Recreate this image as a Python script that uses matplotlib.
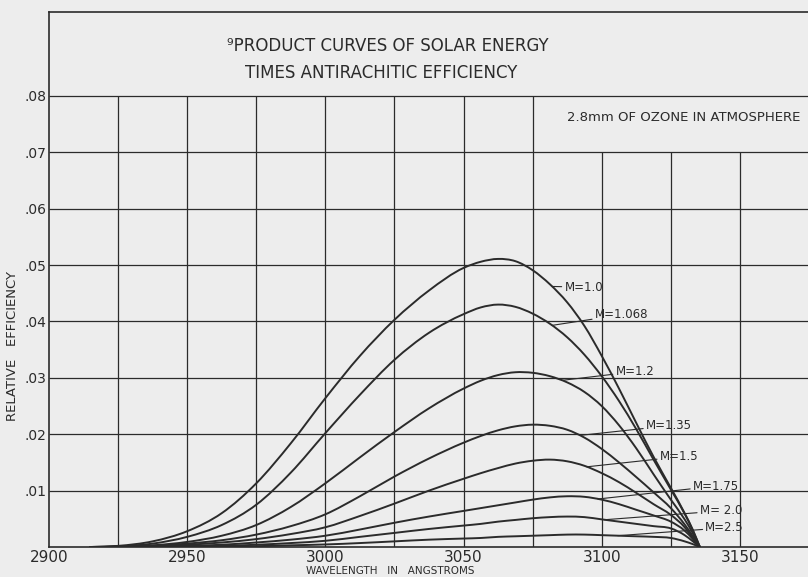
import numpy as np
import matplotlib.pyplot as plt
from matplotlib.path import Path
from matplotlib.patches import PathPatch

# wavelength readings (angstroms)
wl = [2915, 2925, 2937.5, 2950, 2962.5, 2975, 2987.5, 3000, 3012.5, 3025, 3037.5,
      3050, 3056.25, 3062.5, 3068.75, 3075, 3081.25, 3087.5, 3093.75, 3100,
      3106.25, 3112.5, 3118.75, 3125, 3130, 3133, 3135.5]

m_100 = [0, 0.0002, 0.0010, 0.0028, 0.0060, 0.0113, 0.0184, 0.0264, 0.0339, 0.0403, 0.0455,
         0.0495, 0.0506, 0.0511, 0.0507, 0.0491, 0.0466, 0.0434, 0.0392, 0.0339,
         0.0281, 0.0220, 0.0160, 0.0105, 0.0060, 0.0030, 0]
m_1068 = [0, 0.0001, 0.0006, 0.0018, 0.0039, 0.0075, 0.0132, 0.0202, 0.0270, 0.0332, 0.0380,
          0.0413, 0.0425, 0.0430, 0.0426, 0.0414, 0.0396, 0.0372, 0.0341, 0.0303,
          0.0259, 0.0209, 0.0155, 0.0102, 0.0059, 0.0029, 0]
m_120 = [0, 0.0001, 0.0003, 0.0009, 0.0020, 0.0039, 0.0071, 0.0113, 0.0159, 0.0204, 0.0246,
         0.0281, 0.0295, 0.0305, 0.0310, 0.0309, 0.0303, 0.0292, 0.0275, 0.0250,
         0.0216, 0.0175, 0.0129, 0.0084, 0.0049, 0.0024, 0]
m_135 = [0, 0, 0.0002, 0.0006, 0.0012, 0.0022, 0.0037, 0.0058, 0.0090, 0.0125, 0.0157,
         0.0185, 0.0197, 0.0207, 0.0214, 0.0217, 0.0215, 0.0208, 0.0194, 0.0174,
         0.0150, 0.0124, 0.0097, 0.0069, 0.0040, 0.0019, 0]
m_150 = [0, 0, 0.0001, 0.0004, 0.0008, 0.0014, 0.0023, 0.0035, 0.0055, 0.0077, 0.0100,
         0.0121, 0.0131, 0.0140, 0.0148, 0.0153, 0.0155, 0.0152, 0.0144, 0.0131,
         0.0115, 0.0096, 0.0076, 0.0057, 0.0035, 0.0016, 0]
m_175 = [0, 0, 0.0001, 0.0002, 0.0004, 0.0008, 0.0013, 0.0020, 0.0031, 0.0043, 0.0054,
         0.0064, 0.0069, 0.0074, 0.0079, 0.0084, 0.0088, 0.0090, 0.0089, 0.0084,
         0.0076, 0.0066, 0.0056, 0.0045, 0.0029, 0.0014, 0]
m_200 = [0, 0, 0, 0.0001, 0.0002, 0.0004, 0.0007, 0.0011, 0.0018, 0.0025, 0.0032,
         0.0038, 0.0041, 0.0045, 0.0048, 0.0051, 0.0053, 0.0054, 0.0053, 0.0049,
         0.0045, 0.0041, 0.0037, 0.0033, 0.0021, 0.0010, 0]
m_250 = [0, 0, 0, 0, 0.0001, 0.00015, 0.0003, 0.00045, 0.0007, 0.0010, 0.0013,
         0.0015, 0.0016, 0.0018, 0.0019, 0.0020, 0.0021, 0.0022, 0.0022, 0.0021,
         0.0020, 0.0019, 0.0018, 0.0016, 0.0010, 0.0005, 0]

curves = [m_100, m_1068, m_120, m_135, m_150, m_175, m_200, m_250]
labels = ['M=1.0', 'M=1.068', 'M=1.2', 'M=1.35', 'M=1.5', 'M=1.75', 'M= 2.0', 'M=2.5']

# where each leader leaves its curve, and where its label sits
leader_wl = [3082, 3082, 3085.5, 3092, 3094.6, 3098.6, 3101, 3105.8]
label_x = [3086.5, 3097.5, 3105, 3116, 3121, 3133, 3135.5, 3137.5]
label_y = [0.0461, 0.0412, 0.0311, 0.0215, 0.0160, 0.0108, 0.0064, 0.0034]

xticks = [2900, 2950, 3000, 3050, 3100, 3150]
yticks = [0.01, 0.02, 0.03, 0.04, 0.05, 0.06, 0.07, 0.08]
ytick_labels = ['.01', '.02', '.03', '.04', '.05', '.06', '.07', '.08']

ink = '#2b2b2b'
paper = '#ededed'


def smooth_path(x, y):
    # cubic hermite through the readings, drawn as bezier segments
    x = np.asarray(x, float)
    y = np.asarray(y, float)
    h = np.diff(x)
    d = np.diff(y) / h
    m = np.zeros_like(y)
    m[0], m[-1] = d[0], d[-1]
    m[1:-1] = (d[:-1] * h[1:] + d[1:] * h[:-1]) / (h[:-1] + h[1:])
    verts = [(x[0], y[0])]
    codes = [Path.MOVETO]
    for i in range(len(h)):
        verts += [(x[i] + h[i] / 3, y[i] + m[i] * h[i] / 3),
                  (x[i + 1] - h[i] / 3, y[i + 1] - m[i + 1] * h[i] / 3),
                  (x[i + 1], y[i + 1])]
        codes += [Path.CURVE4] * 3
    return Path(verts, codes)


fig = plt.figure(figsize=(8.08, 5.77), dpi=100, facecolor=paper)
ax = fig.add_axes([49 / 808, 30 / 577, 760 / 808, 535 / 577], facecolor=paper)
ax.set_xlim(2900, 3175)
ax.set_ylim(0, 0.0949)

# grid: the ozone note sits in the top right cells, so those columns stop at .07
for x in range(2925, 3175, 25):
    top = 0.07 if x >= 3100 else 0.08
    ax.vlines(x, 0, top, color=ink, lw=0.9)
ax.hlines(yticks, 2900, 3175, color=ink, lw=0.9)

for vals in curves:
    ax.add_patch(PathPatch(smooth_path(wl, vals), fill=False, edgecolor=ink,
                           lw=1.4, capstyle='round', joinstyle='round'))

for vals, lab, lw_, lx, ly in zip(curves, labels, leader_wl, label_x, label_y):
    yv = np.interp(lw_, wl, vals)
    ax.annotate(lab, xy=(lw_, yv), xytext=(lx, ly), textcoords='data',
                fontsize=8.5, color=ink, ha='left', va='center',
                arrowprops=dict(arrowstyle='-', color=ink, lw=0.8,
                                shrinkA=0, shrinkB=0))

for side in ['left', 'top', 'bottom']:
    ax.spines[side].set_color(ink)
    ax.spines[side].set_linewidth(1.2)
ax.spines['right'].set_visible(False)

ax.set_xticks(xticks)
ax.set_xticklabels([str(t) for t in xticks], fontsize=11, color=ink)
ax.set_yticks(yticks)
ax.set_yticklabels(ytick_labels, fontsize=10, color=ink)
ax.tick_params(length=0, pad=2)

fig.text(388 / 808, 1 - 46 / 577, '\u2079PRODUCT CURVES OF SOLAR ENERGY',
         fontsize=12, color=ink, ha='center', va='center')
fig.text(381 / 808, 1 - 73 / 577, 'TIMES ANTIRACHITIC EFFICIENCY',
         fontsize=12, color=ink, ha='center', va='center')
fig.text(684 / 808, 1 - 117 / 577, '2.8mm OF OZONE IN ATMOSPHERE',
         fontsize=9.5, color=ink, ha='center', va='center')
fig.text(390 / 808, 1 - 571.5 / 577, 'WAVELENGTH   IN   ANGSTROMS',
         fontsize=7.5, color=ink, ha='center', va='center')
fig.text(13 / 808, 1 - 346 / 577, 'RELATIVE   EFFICIENCY', rotation=90,
         fontsize=9.5, color=ink, ha='center', va='center')

fig.savefig('out.png', dpi=100, facecolor=paper)
